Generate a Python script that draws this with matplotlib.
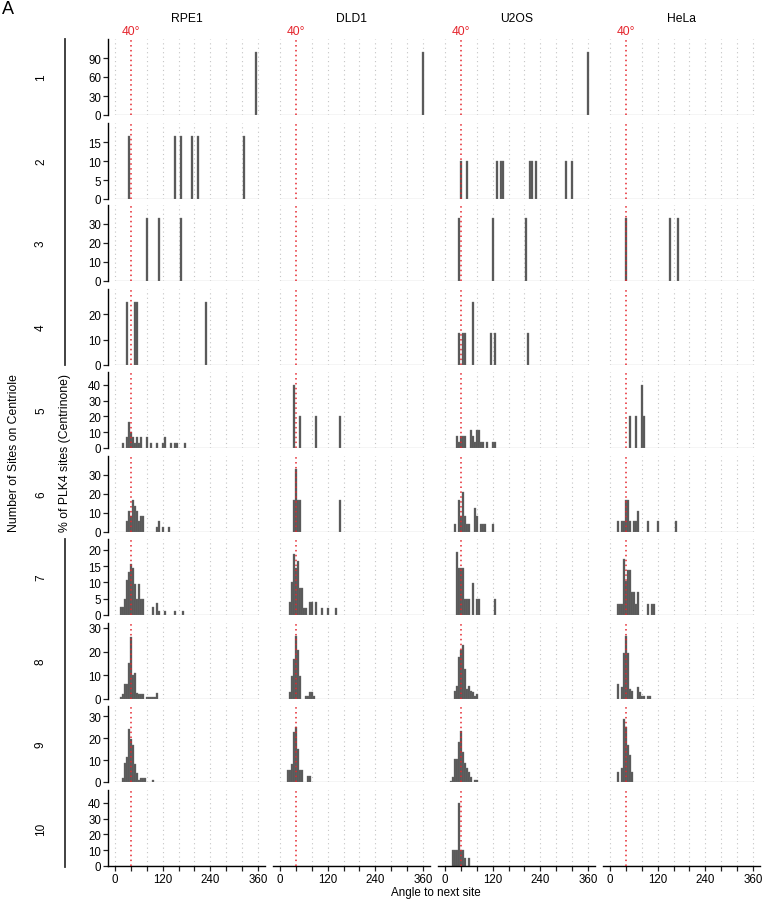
import matplotlib
matplotlib.use("Agg")
import matplotlib.pyplot as plt

plt.rcParams['font.family'] = ['Liberation Sans', 'DejaVu Sans']

# histogram data: bin centre (degrees, 5 degree bins) and % of PLK4 sites
cell_lines = ["RPE1", "DLD1", "U2OS", "HeLa"]
n_sites = [1, 2, 3, 4, 5, 6, 7, 8, 9, 10]

RPE1 = {
    1: ([355], [100]),
    2: ([35, 150, 165, 195, 210, 325], [16.7, 16.7, 16.7, 16.7, 16.7, 16.7]),
    3: ([80, 110, 165], [33.3, 33.3, 33.3]),
    4: ([30, 50, 55, 230], [25, 25, 25, 25]),
    5: ([20, 30, 35, 40, 45, 50, 55, 60, 65, 80, 90, 105, 120, 125, 140, 150, 155, 175],
        [3.3, 6.7, 16.7, 10, 6.7, 3.3, 6.7, 3.3, 6.7, 6.7, 3.3, 3.3, 3.3, 6.7, 3.3, 3.3, 3.3, 3.3]),
    6: ([30, 35, 40, 45, 50, 55, 60, 65, 70, 105, 110, 120, 135],
        [5.6, 11.1, 8.3, 16.7, 13.9, 11.1, 5.6, 8.3, 8.3, 2.8, 5.6, 2.8, 2.8]),
    7: ([15, 20, 25, 30, 35, 40, 45, 50, 55, 60, 65, 70, 95, 105, 110, 125, 150, 170],
        [2.4, 2.4, 4.8, 10.7, 13.1, 15.5, 14.3, 9.5, 4.8, 9.5, 4.8, 4.8, 2.4, 3.6, 1.2, 1.2, 1.2, 1.2]),
    8: ([15, 20, 25, 30, 35, 40, 45, 50, 55, 60, 65, 70, 80, 85, 90, 95, 100, 105],
        [1.0, 1.9, 6.3, 6.3, 15.3, 26.1, 10.1, 11.1, 2.5, 1.9, 1.9, 1.9, 1.0, 1.0, 1.0, 1.0, 1.0, 2.4]),
    9: ([20, 25, 30, 35, 40, 45, 50, 55, 60, 65, 70, 75, 95],
        [1.8, 8.8, 11.4, 24.2, 19.4, 17.0, 8.3, 4.1, 0.8, 1.8, 1.8, 1.8, 0.9]),
    10: ([], []),
}

DLD1 = {
    1: ([360], [100]),
    2: ([], []),
    3: ([], []),
    4: ([], []),
    5: ([35, 50, 90, 150], [40, 20, 20, 20]),
    6: ([35, 40, 45, 50, 150], [16.7, 33.3, 16.7, 16.7, 16.7]),
    7: ([25, 30, 35, 40, 45, 50, 55, 60, 65, 75, 80, 90, 105, 120, 140],
        [4.1, 10.0, 18.7, 14.3, 16.6, 8.2, 8.2, 2.0, 2.0, 4.1, 4.1, 4.1, 2.0, 2.0, 2.0]),
    8: ([25, 30, 35, 40, 45, 50, 65, 70, 75, 80, 85],
        [2.8, 9.7, 16.7, 26.4, 20.8, 9.7, 1.4, 1.4, 2.8, 2.8, 1.4]),
    9: ([20, 25, 30, 35, 40, 45, 50, 55, 70, 75],
        [5.5, 5.5, 8.3, 22.7, 25.0, 15.2, 5.5, 5.5, 2.7, 2.7]),
    10: ([], []),
}

U2OS = {
    1: ([360], [100]),
    2: ([40, 55, 130, 140, 145, 215, 220, 230, 305, 320], [10] * 10),
    3: ([35, 120, 205], [33.3, 33.3, 33.3]),
    4: ([35, 45, 50, 70, 115, 125, 210], [12.5, 12.5, 12.5, 25, 12.5, 12.5, 12.5]),
    5: ([30, 35, 40, 45, 50, 65, 70, 75, 80, 85, 90, 95, 105, 120, 125],
        [7.7, 3.85, 7.7, 7.7, 7.7, 11.5, 7.7, 3.85, 11.5, 11.5, 3.85, 3.85, 3.85, 3.85, 3.85]),
    6: ([25, 35, 40, 45, 50, 55, 60, 75, 80, 90, 95, 100, 120],
        [4.2, 16.7, 8.3, 20.8, 8.3, 4.2, 4.2, 12.5, 8.3, 4.2, 4.2, 4.2, 4.2]),
    7: ([30, 35, 40, 45, 50, 55, 60, 70, 80, 85, 125],
        [19.4, 14.5, 14.5, 14.5, 4.8, 4.8, 4.8, 9.7, 4.8, 4.8, 4.8]),
    8: ([25, 30, 35, 40, 45, 50, 55, 60, 65, 70, 75, 80],
        [3.5, 5.3, 17.8, 20.8, 22.9, 12.5, 4.2, 5.3, 3.5, 2.8, 1.1, 2.1]),
    9: ([15, 20, 25, 30, 35, 40, 45, 50, 55, 60, 65, 75, 80],
        [0.6, 2.3, 10.3, 10.3, 18.2, 23.0, 13.6, 8.8, 6.4, 4.5, 2.3, 1.1, 1.1]),
    10: ([20, 25, 30, 35, 40, 45, 50, 60], [10, 10, 10, 40, 10, 10, 5, 5]),
}

HeLa = {
    1: ([], []),
    2: ([], []),
    3: ([40, 150, 170], [33.3, 33.3, 33.3]),
    4: ([], []),
    5: ([50, 65, 80, 85], [20, 20, 40, 20]),
    6: ([20, 30, 35, 40, 45, 50, 60, 65, 70, 95, 120, 165],
        [5.6, 5.6, 5.6, 16.7, 16.7, 5.6, 5.6, 5.6, 11.1, 5.6, 5.6, 5.6]),
    7: ([20, 25, 30, 35, 40, 45, 50, 55, 60, 65, 70, 95, 105, 110],
        [3.45, 3.45, 3.45, 17.2, 10.3, 13.8, 13.8, 6.9, 6.9, 3.45, 6.9, 3.45, 3.45, 3.45]),
    8: ([20, 30, 35, 40, 45, 50, 55, 70, 75, 80, 85, 95, 100],
        [6.2, 4.9, 19.4, 26.7, 19.4, 4.2, 3.5, 4.9, 2.8, 1.4, 1.4, 1.4, 1.4]),
    9: ([20, 30, 35, 40, 45, 50, 55], [4.5, 6.4, 28.8, 25.0, 16.7, 12.1, 4.5]),
    10: ([], []),
}

data = {"RPE1": RPE1, "DLD1": DLD1, "U2OS": U2OS, "HeLa": HeLa}

y_ticks = {
    1: [0, 30, 60, 90], 2: [0, 5, 10, 15], 3: [0, 10, 20, 30], 4: [0, 10, 20],
    5: [0, 10, 20, 30, 40], 6: [0, 10, 20, 30], 7: [0, 5, 10, 15, 20],
    8: [0, 10, 20, 30], 9: [0, 10, 20, 30], 10: [0, 10, 20, 30, 40],
}

W, H = 763, 904
fig = plt.figure(figsize=(W / 100, H / 100), dpi=100)

col_left = [108, 273, 438, 603]
panel_w = 157
row_top = [40, 124, 206, 290, 373, 457, 540, 624, 707, 791]
panel_h = 76

bar_color = "#565656"
grid_color = "#c4c4c4"
red = "#e5262e"


def px_axes(left, top, w, h):
    return fig.add_axes([left / W, 1 - (top + h) / H, w / W, h / H])


for r, n in enumerate(n_sites):
    row_max = max([max(data[c][n][1]) for c in cell_lines if data[c][n][1]])
    for c_i, cell in enumerate(cell_lines):
        ax = px_axes(col_left[c_i], row_top[r], panel_w, panel_h)
        centres, pct = data[cell][n]
        for g in range(0, 361, 40):
            if g == 40:
                continue
            ax.axvline(g, color=grid_color, lw=0.8, ls=(0, (1, 3)), zorder=0)
        ax.hlines(0, 0, 360, color="#d0d0d0", lw=1.0, zorder=1)
        if centres:
            ax.bar(centres, pct, width=5, color=bar_color, edgecolor="#727272",
                   linewidth=0.25, zorder=2)
        ax.axvline(40, color=red, lw=1.1, ls=(0, (1, 2.2)), zorder=3)
        ax.set_xlim(-18, 378)
        ax.set_ylim(0, row_max * 1.2)
        ax.set_facecolor("none")
        for s in ["top", "right"]:
            ax.spines[s].set_visible(False)
        ax.spines["bottom"].set_visible(n == 10)
        ax.spines["left"].set_visible(c_i == 0)
        ax.spines["left"].set_linewidth(1.0)
        ax.spines["bottom"].set_linewidth(1.0)
        ax.tick_params(length=3.5, width=0.9, labelsize=8.3, pad=1.5, color="#222222")
        if c_i == 0:
            ax.set_yticks(y_ticks[n])
        else:
            ax.set_yticks([])
        if n == 10:
            ax.set_xticks(range(0, 361, 40))
            ax.set_xticklabels([str(t) if t % 120 == 0 else "" for t in range(0, 361, 40)])
        else:
            ax.set_xticks([])

# column titles and 40 degree labels
for c_i, cell in enumerate(cell_lines):
    cx = col_left[c_i] + panel_w / 2
    fig.text(cx / W, 1 - 19 / H, cell, ha="center", va="center", fontsize=8.7)
    x40 = col_left[c_i] + (40 + 18) / 396 * panel_w
    fig.text(x40 / W, 1 - 32 / H, "40°", ha="center", va="center", fontsize=8.7, color=red)

# row labels
for r, n in enumerate(n_sites):
    cy = row_top[r] + panel_h / 2
    fig.text(41 / W, 1 - cy / H, str(n), rotation=90, ha="center", va="center", fontsize=8.5)

# bracket lines grouping rows
fig.add_artist(plt.Line2D([65 / W, 65 / W], [1 - 40 / H, 1 - 366 / H], color="#333333", lw=1.3))
fig.add_artist(plt.Line2D([65 / W, 65 / W], [1 - 540 / H, 1 - 868 / H], color="#333333", lw=1.3))

fig.text(14 / W, 1 - 453 / H, "Number of Sites on Centriole", rotation=90,
         ha="center", va="center", fontsize=8.8)
fig.text(65 / W, 1 - 453 / H, "% of PLK4 sites (Centrinone)", rotation=90,
         ha="center", va="center", fontsize=8.8)
fig.text(436 / W, 1 - 893 / H, "Angle to next site", ha="center", va="center", fontsize=8.4)
fig.text(8 / W, 1 - 9 / H, "A", ha="center", va="center", fontsize=13)

fig.savefig("out.png", dpi=100)
